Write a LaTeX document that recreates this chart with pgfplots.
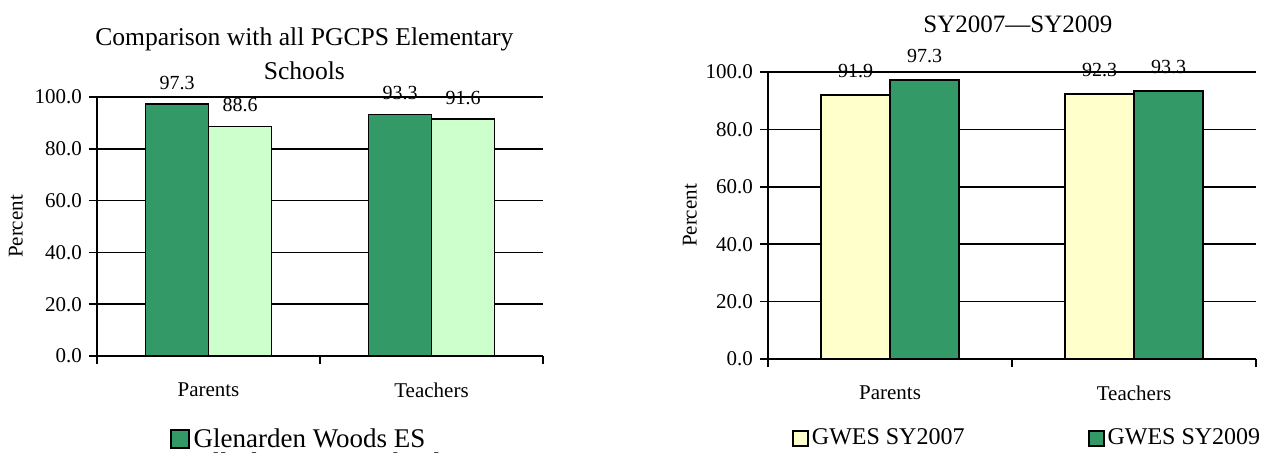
\documentclass[border=0pt]{standalone}
\usepackage{fontspec}
\setmainfont{Liberation Serif}
\usepackage{pgfplots}
\pgfplotsset{compat=1.18}
\definecolor{seagreen}{HTML}{339966}
\definecolor{lightgreen}{HTML}{CCFFCC}
\definecolor{lightyellow}{HTML}{FFFFCC}
\pgfplotsset{
  mybars/.style={
    ybar=0pt, scale only axis, clip=false,
    axis lines=left, axis line style={-, line width=0.9pt, black},
    ymin=0, ymax=100, ytick={0,20,40,60,80,100},
    ymajorgrids, major grid style={black, line width=0.8pt},
    tick align=outside, major tick length=4pt, tick style={black, line width=0.8pt},
    xmin=-0.5, xmax=1.5, xtick={-0.5,0.5,1.5}, xticklabels={},
    extra x ticks={0,1}, extra x tick labels={Parents,Teachers},
    extra x tick style={major tick length=0pt, tick label style={yshift=-10pt}},
    /pgf/number format/assume math mode=true,
    yticklabel style={/pgf/number format/.cd, fixed, fixed zerofill, precision=1},
    ticklabel style={font=\fontsize{10.5}{12}\selectfont},
    ylabel={Percent},
    ylabel style={font=\fontsize{10.5}{12}\selectfont, anchor=center},
    nodes near coords={\pgfmathprintnumber[fixed,fixed zerofill,precision=1]{\pgfplotspointmeta}},
    every node near coord/.append style={font=\fontsize{10}{12}\selectfont, black},
    legend cell align=left,
  }
}
\begin{document}
\begin{tikzpicture}
\begin{axis}[mybars,
  at={(48.5pt,48pt)}, anchor=south west, width=223pt, height=129.5pt,
  bar width=31.5pt,
  every node near coord/.append style={yshift=3.5pt},
  ylabel style={at={(axis description cs:-0.182,0.5)}},
  title={Comparison with all PGCPS Elementary\\Schools},
  title style={align=center, font=\fontsize{12.8}{17}\selectfont, at={(axis description cs:0.465,1)}, anchor=center, yshift=15.75pt},
  legend image code/.code={\draw[#1, line width=0.8pt] (0pt,-4.5pt) rectangle (9pt,4.5pt);},
  legend style={draw=none, fill=none, at={(axis description cs:0.163,-0.262)}, anchor=north west,
    font=\fontsize{13.5}{14}\selectfont, row sep=-2.5pt, inner sep=0pt, nodes={inner sep=2pt}},
]
\addplot[fill=seagreen, draw=black, line width=0.8pt] coordinates {(0,97.3) (1,93.3)};
\addplot[fill=lightgreen, draw=black, line width=0.8pt] coordinates {(0,88.6) (1,91.6)};
\legend{Glenarden Woods ES, All Elementary Schools}
\end{axis}
\begin{axis}[mybars,
  at={(384pt,46.5pt)}, anchor=south west, width=244pt, height=143.5pt,
  bar width=34.5pt,
  every node near coord/.append style={yshift=5pt},
  ylabel style={at={(axis description cs:-0.160,0.5)}},
  title={SY2007—SY2009},
  title style={font=\fontsize{12.5}{14}\selectfont, at={(axis description cs:0.512,1)}, anchor=center, yshift=18pt},
  legend columns=2,
  legend image code/.code={\draw[#1, line width=0.8pt] (0pt,-3.75pt) rectangle (7.5pt,3.75pt);},
  legend style={draw=none, fill=none, at={(axis description cs:0.049,-0.232)}, anchor=north west,
    font=\fontsize{12}{13}\selectfont, inner sep=0pt, nodes={inner sep=1.5pt}},
]
\addplot[fill=lightyellow, draw=black, line width=0.8pt] coordinates {(0,91.9) (1,92.3)};
\addplot[fill=seagreen, draw=black, line width=0.8pt] coordinates {(0,97.3) (1,93.3)};
\legend{\makebox[136.5pt][l]{GWES SY2007}, GWES SY2009}
\end{axis}
\pgfresetboundingbox
\useasboundingbox (0,0) rectangle (636pt,226pt);
\end{tikzpicture}
\end{document}
